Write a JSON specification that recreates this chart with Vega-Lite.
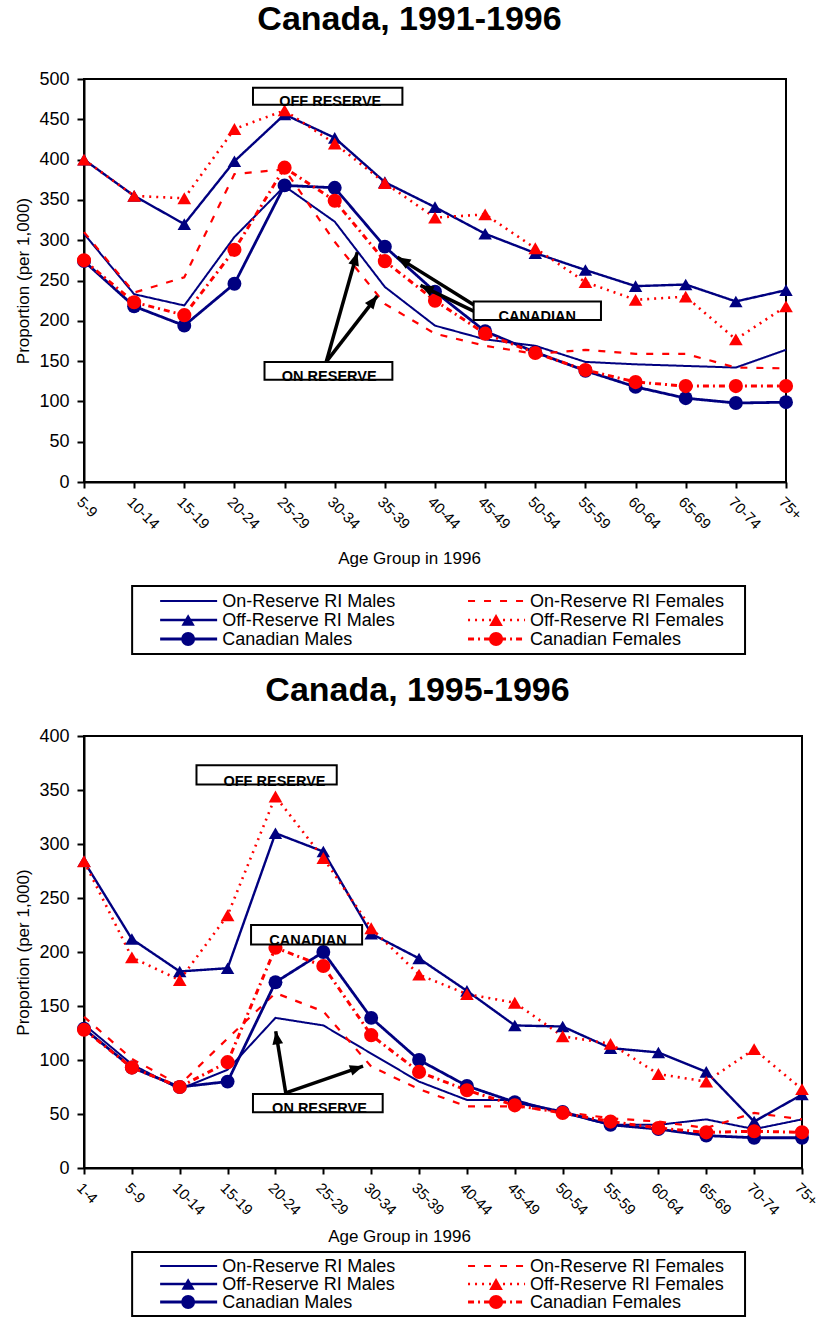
{
  "$schema": "https://vega.github.io/schema/vega-lite/v6.json",
  "padding": {"left": 13, "top": 2, "right": 5, "bottom": 0},
  "spacing": 17,
  "config": {
    "font": "Liberation Sans",
    "view": {"stroke": "black", "strokeWidth": 2},
    "axis": {
      "domainColor": "black", "domainWidth": 2, "tickColor": "black", "tickWidth": 2,
      "labelColor": "black", "titleColor": "black", "grid": false,
      "labelFont": "Liberation Sans", "titleFont": "Liberation Sans", "titleFontWeight": "normal"
    },
    "title": {"font": "Liberation Sans", "fontWeight": "bold", "color": "black", "anchor": "middle", "frame": "bounds"},
    "text": {"font": "Liberation Sans", "color": "black"}
  },
  "datasets": {
    "rates9196": [
      {"age": "5-9", "On-Reserve RI Males": 308, "On-Reserve RI Females": 310, "Off-Reserve RI Males": 400, "Off-Reserve RI Females": 400, "Canadian Males": 274, "Canadian Females": 275},
      {"age": "10-14", "On-Reserve RI Males": 233, "On-Reserve RI Females": 235, "Off-Reserve RI Males": 355, "Off-Reserve RI Females": 355, "Canadian Males": 218, "Canadian Females": 223},
      {"age": "15-19", "On-Reserve RI Males": 219, "On-Reserve RI Females": 254, "Off-Reserve RI Males": 320, "Off-Reserve RI Females": 352, "Canadian Males": 194, "Canadian Females": 207},
      {"age": "20-24", "On-Reserve RI Males": 304, "On-Reserve RI Females": 382, "Off-Reserve RI Males": 398, "Off-Reserve RI Females": 438, "Canadian Males": 246, "Canadian Females": 288},
      {"age": "25-29", "On-Reserve RI Males": 367, "On-Reserve RI Females": 388, "Off-Reserve RI Males": 456, "Off-Reserve RI Females": 461, "Canadian Males": 368, "Canadian Females": 390},
      {"age": "30-34", "On-Reserve RI Males": 323, "On-Reserve RI Females": 298, "Off-Reserve RI Males": 427, "Off-Reserve RI Females": 420, "Canadian Males": 365, "Canadian Females": 349},
      {"age": "35-39", "On-Reserve RI Males": 242, "On-Reserve RI Females": 221, "Off-Reserve RI Males": 372, "Off-Reserve RI Females": 371, "Canadian Males": 292, "Canadian Females": 274},
      {"age": "40-44", "On-Reserve RI Males": 194, "On-Reserve RI Females": 184, "Off-Reserve RI Males": 341, "Off-Reserve RI Females": 328, "Canadian Males": 236, "Canadian Females": 225},
      {"age": "45-49", "On-Reserve RI Males": 177, "On-Reserve RI Females": 169, "Off-Reserve RI Males": 308, "Off-Reserve RI Females": 332, "Canadian Males": 187, "Canadian Females": 184},
      {"age": "50-54", "On-Reserve RI Males": 169, "On-Reserve RI Females": 159, "Off-Reserve RI Males": 284, "Off-Reserve RI Females": 290, "Canadian Males": 161, "Canadian Females": 160},
      {"age": "55-59", "On-Reserve RI Males": 149, "On-Reserve RI Females": 164, "Off-Reserve RI Males": 263, "Off-Reserve RI Females": 248, "Canadian Males": 138, "Canadian Females": 139},
      {"age": "60-64", "On-Reserve RI Males": 146, "On-Reserve RI Females": 159, "Off-Reserve RI Males": 243, "Off-Reserve RI Females": 226, "Canadian Males": 118, "Canadian Females": 124},
      {"age": "65-69", "On-Reserve RI Males": 144, "On-Reserve RI Females": 159, "Off-Reserve RI Males": 245, "Off-Reserve RI Females": 230, "Canadian Males": 104, "Canadian Females": 119},
      {"age": "70-74", "On-Reserve RI Males": 142, "On-Reserve RI Females": 142, "Off-Reserve RI Males": 224, "Off-Reserve RI Females": 177, "Canadian Males": 98, "Canadian Females": 119},
      {"age": "75+", "On-Reserve RI Males": 164, "On-Reserve RI Females": 141, "Off-Reserve RI Males": 238, "Off-Reserve RI Females": 218, "Canadian Males": 99, "Canadian Females": 119}
    ],
    "rates9596": [
      {"age": "1-4", "On-Reserve RI Males": 133, "On-Reserve RI Females": 140, "Off-Reserve RI Males": 284, "Off-Reserve RI Females": 284, "Canadian Males": 129, "Canadian Females": 128},
      {"age": "5-9", "On-Reserve RI Males": 96, "On-Reserve RI Females": 101, "Off-Reserve RI Males": 212, "Off-Reserve RI Females": 195, "Canadian Males": 93, "Canadian Females": 93},
      {"age": "10-14", "On-Reserve RI Males": 73, "On-Reserve RI Females": 77, "Off-Reserve RI Males": 182, "Off-Reserve RI Females": 174, "Canadian Males": 75, "Canadian Females": 75},
      {"age": "15-19", "On-Reserve RI Males": 91, "On-Reserve RI Females": 120, "Off-Reserve RI Males": 185, "Off-Reserve RI Females": 234, "Canadian Males": 80, "Canadian Females": 98},
      {"age": "20-24", "On-Reserve RI Males": 139, "On-Reserve RI Females": 162, "Off-Reserve RI Males": 310, "Off-Reserve RI Females": 344, "Canadian Males": 172, "Canadian Females": 204},
      {"age": "25-29", "On-Reserve RI Males": 132, "On-Reserve RI Females": 145, "Off-Reserve RI Males": 293, "Off-Reserve RI Females": 287, "Canadian Males": 200, "Canadian Females": 187},
      {"age": "30-34", "On-Reserve RI Males": 106, "On-Reserve RI Females": 94, "Off-Reserve RI Males": 217, "Off-Reserve RI Females": 222, "Canadian Males": 139, "Canadian Females": 123},
      {"age": "35-39", "On-Reserve RI Males": 80, "On-Reserve RI Females": 73, "Off-Reserve RI Males": 194, "Off-Reserve RI Females": 179, "Canadian Males": 100, "Canadian Females": 89},
      {"age": "40-44", "On-Reserve RI Males": 63, "On-Reserve RI Females": 57, "Off-Reserve RI Males": 164, "Off-Reserve RI Females": 161, "Canadian Males": 76, "Canadian Females": 72},
      {"age": "45-49", "On-Reserve RI Males": 63, "On-Reserve RI Females": 57, "Off-Reserve RI Males": 132, "Off-Reserve RI Females": 153, "Canadian Males": 61, "Canadian Females": 58},
      {"age": "50-54", "On-Reserve RI Males": 51, "On-Reserve RI Females": 52, "Off-Reserve RI Males": 131, "Off-Reserve RI Females": 122, "Canadian Males": 52, "Canadian Females": 51},
      {"age": "55-59", "On-Reserve RI Males": 40, "On-Reserve RI Females": 46, "Off-Reserve RI Males": 111, "Off-Reserve RI Females": 115, "Canadian Males": 40, "Canadian Females": 43},
      {"age": "60-64", "On-Reserve RI Males": 40, "On-Reserve RI Females": 43, "Off-Reserve RI Males": 107, "Off-Reserve RI Females": 87, "Canadian Males": 36, "Canadian Females": 37},
      {"age": "65-69", "On-Reserve RI Males": 45, "On-Reserve RI Females": 37, "Off-Reserve RI Males": 89, "Off-Reserve RI Females": 80, "Canadian Males": 30, "Canadian Females": 33},
      {"age": "70-74", "On-Reserve RI Males": 36, "On-Reserve RI Females": 51, "Off-Reserve RI Males": 43, "Off-Reserve RI Females": 110, "Canadian Males": 28, "Canadian Females": 34},
      {"age": "75+", "On-Reserve RI Males": 45, "On-Reserve RI Females": 45, "Off-Reserve RI Males": 68, "Off-Reserve RI Females": 73, "Canadian Males": 28, "Canadian Females": 33}
    ],
    "legendItems": [
      {"series": "On-Reserve RI Males", "group": "On-Reserve RI", "sex": "Males"},
      {"series": "On-Reserve RI Females", "group": "On-Reserve RI", "sex": "Females"},
      {"series": "Off-Reserve RI Males", "group": "Off-Reserve RI", "sex": "Males"},
      {"series": "Off-Reserve RI Females", "group": "Off-Reserve RI", "sex": "Females"},
      {"series": "Canadian Males", "group": "Canadian", "sex": "Males"},
      {"series": "Canadian Females", "group": "Canadian", "sex": "Females"}
    ],
    "notes9196": [
      {"label": "OFF RESERVE", "x0": 3.37, "x1": 6.35, "y0": 468, "y1": 489, "xc": 4.91},
      {"label": "CANADIAN", "x0": 7.77, "x1": 10.31, "y0": 201, "y1": 224, "xc": 9.04},
      {"label": "ON RESERVE", "x0": 3.6, "x1": 6.15, "y0": 127, "y1": 149, "xc": 4.89}
    ],
    "arrows9196": [
      {"x0": 4.83, "v0": 149, "x1": 5.45, "v1": 285, "heading": 16},
      {"x0": 4.83, "v0": 149, "x1": 5.85, "v1": 231, "heading": 38},
      {"x0": 7.77, "v0": 220, "x1": 6.25, "v1": 279, "heading": -58},
      {"x0": 7.77, "v0": 212, "x1": 6.71, "v1": 244, "heading": -64}
    ],
    "notes9596": [
      {"label": "OFF RESERVE", "x0": 2.35, "x1": 5.28, "y0": 355, "y1": 373, "xc": 3.98},
      {"label": "CANADIAN", "x0": 3.49, "x1": 5.81, "y0": 207, "y1": 225, "xc": 4.68},
      {"label": "ON RESERVE", "x0": 3.53, "x1": 6.24, "y0": 51.6, "y1": 68.6, "xc": 4.92}
    ],
    "arrows9596": [
      {"x0": 4.215, "v0": 69.5, "x1": 4.005, "v1": 126.7, "heading": -9},
      {"x0": 4.215, "v0": 69.5, "x1": 5.83, "v1": 94.3, "heading": 71}
    ]
  },
  "vconcat": [
    {
      "spacing": 16,
      "vconcat": [
        {
          "title": {"text": "Canada, 1991-1996", "fontSize": 34, "offset": 33},
          "width": 702,
          "height": 403,
          "resolve": {"scale": {"x": "independent"}},
          "layer": [
            {
              "data": {"name": "rates9196"},
              "transform": [{"fold": ["On-Reserve RI Males", "On-Reserve RI Females", "Off-Reserve RI Males", "Off-Reserve RI Females", "Canadian Males", "Canadian Females"], "as": ["series", "value"]}],
              "encoding": {
                "x": {
                  "field": "age", "type": "nominal",
                  "scale": {"type": "point", "padding": 0, "domain": ["5-9", "10-14", "15-19", "20-24", "25-29", "30-34", "35-39", "40-44", "45-49", "50-54", "55-59", "60-64", "65-69", "70-74", "75+"]},
                  "axis": {"title": "Age Group in 1996", "titleFontSize": 17, "titlePadding": 19, "titleX": 325, "labelAngle": 45, "labelAlign": "left", "labelBaseline": "top", "labelFontSize": 15, "labelPadding": 6, "tickSize": 6}
                },
                "y": {
                  "field": "value", "type": "quantitative",
                  "scale": {"domain": [0, 500], "nice": false},
                  "axis": {"title": "Proportion (per 1,000)", "titleFontSize": 17, "titlePadding": 6, "labelFontSize": 18, "labelPadding": 8, "tickSize": 7, "values": [0, 50, 100, 150, 200, 250, 300, 350, 400, 450, 500]}
                },
                "color": {"field": "series", "type": "nominal", "legend": null,
                  "scale": {"domain": ["On-Reserve RI Males", "On-Reserve RI Females", "Off-Reserve RI Males", "Off-Reserve RI Females", "Canadian Males", "Canadian Females"], "range": ["#000080", "#ff0000", "#000080", "#ff0000", "#000080", "#ff0000"]}}
              },
              "layer": [
                {
                  "mark": {"type": "line"},
                  "encoding": {
                    "order": {"value": null},
                    "strokeDash": {"field": "series", "type": "nominal", "legend": null,
                      "scale": {"domain": ["On-Reserve RI Males", "On-Reserve RI Females", "Off-Reserve RI Males", "Off-Reserve RI Females", "Canadian Males", "Canadian Females"], "range": [[1, 0], [7, 9], [1, 0], [2, 5], [1, 0], [6, 4, 2, 4]]}},
                    "strokeWidth": {"field": "series", "type": "ordinal", "legend": null,
                      "scale": {"domain": ["On-Reserve RI Males", "On-Reserve RI Females", "Off-Reserve RI Males", "Off-Reserve RI Females", "Canadian Males", "Canadian Females"], "range": [2, 3, 2, 2, 2, 2]}}
                  }
                },
                {
                  "transform": [{"filter": {"field": "series", "oneOf": ["Off-Reserve RI Males", "Off-Reserve RI Females", "Canadian Males", "Canadian Females"]}}],
                  "mark": {"type": "point", "filled": true, "opacity": 1},
                  "encoding": {
                    "shape": {"field": "series", "type": "nominal", "legend": null,
                      "scale": {"domain": ["Off-Reserve RI Males", "Off-Reserve RI Females", "Canadian Males", "Canadian Females"], "range": ["triangle-up", "triangle-up", "circle", "circle"]}},
                    "size": {"field": "series", "type": "ordinal", "legend": null,
                      "scale": {"domain": ["Off-Reserve RI Males", "Off-Reserve RI Females", "Canadian Males", "Canadian Females"], "range": [180, 200, 90, 130]}}
                  }
                }
              ]
            },
            {
              "data": {"name": "notes9196"},
              "layer": [
                {
                  "mark": {"type": "rect", "fill": "white", "stroke": "black", "strokeWidth": 2},
                  "encoding": {
                    "x": {"field": "x0", "type": "quantitative", "scale": {"domain": [0, 14], "nice": false, "zero": false}, "axis": null},
                    "x2": {"field": "x1"},
                    "y": {"field": "y0", "type": "quantitative"},
                    "y2": {"field": "y1"}
                  }
                },
                {
                  "mark": {"type": "text", "fontWeight": "bold", "fontSize": 14.5, "baseline": "alphabetic", "align": "center", "dy": 1},
                  "encoding": {
                    "x": {"field": "xc", "type": "quantitative", "axis": null},
                    "y": {"field": "y0", "type": "quantitative"},
                    "text": {"field": "label"}
                  }
                }
              ]
            },
            {
              "data": {"name": "arrows9196"},
              "layer": [
                {
                  "mark": {"type": "rule", "color": "black", "strokeWidth": 3.5},
                  "encoding": {
                    "x": {"field": "x0", "type": "quantitative", "scale": {"domain": [0, 14], "nice": false, "zero": false}, "axis": null},
                    "x2": {"field": "x1"},
                    "y": {"field": "v0", "type": "quantitative"},
                    "y2": {"field": "v1"}
                  }
                },
                {
                  "mark": {"type": "point", "filled": true, "color": "black", "opacity": 1, "shape": "M0,0L-0.9,2.2L0.9,2.2Z", "size": 144},
                  "encoding": {
                    "x": {"field": "x1", "type": "quantitative", "axis": null},
                    "y": {"field": "v1", "type": "quantitative"},
                    "angle": {"field": "heading", "type": "quantitative", "scale": null}
                  }
                }
              ]
            }
          ]
        },
        {
          "width": 662,
          "height": 68,
          "view": {"stroke": null},
          "data": {"name": "legendItems"},
          "encoding": {
            "x": {"field": "sex", "type": "nominal", "axis": null, "scale": {"type": "point", "domain": ["Males", "Females"], "padding": 0.575, "align": 0.215}},
            "y": {"field": "group", "type": "nominal", "axis": null, "scale": {"type": "point", "domain": ["On-Reserve RI", "Off-Reserve RI", "Canadian"], "padding": 0.789, "align": 0.5}}
          },
          "layer": [
            {
              "data": {"values": [{"first": "Males", "last": "Females", "top": "On-Reserve RI", "bottom": "Canadian"}]},
              "mark": {"type": "rect", "fill": null, "stroke": "black", "strokeWidth": 2, "xOffset": -28, "x2Offset": 277, "yOffset": -15, "y2Offset": 15},
              "encoding": {
                "x": {"field": "first", "type": "nominal"},
                "x2": {"field": "last"},
                "y": {"field": "top", "type": "nominal"},
                "y2": {"field": "bottom"}
              }
            },
            {
              "mark": {"type": "rule", "x2Offset": 57},
              "encoding": {
                "x2": {"field": "sex"},
                "color": {"field": "series", "type": "nominal", "legend": null,
                  "scale": {"domain": ["On-Reserve RI Males", "On-Reserve RI Females", "Off-Reserve RI Males", "Off-Reserve RI Females", "Canadian Males", "Canadian Females"], "range": ["#000080", "#ff0000", "#000080", "#ff0000", "#000080", "#ff0000"]}},
                "strokeDash": {"field": "series", "type": "nominal", "legend": null,
                  "scale": {"domain": ["On-Reserve RI Males", "On-Reserve RI Females", "Off-Reserve RI Males", "Off-Reserve RI Females", "Canadian Males", "Canadian Females"], "range": [[1, 0], [7, 9], [1, 0], [2, 5], [1, 0], [6, 4, 2, 4]]}},
                "strokeWidth": {"field": "series", "type": "ordinal", "legend": null,
                  "scale": {"domain": ["On-Reserve RI Males", "On-Reserve RI Females", "Off-Reserve RI Males", "Off-Reserve RI Females", "Canadian Males", "Canadian Females"], "range": [2, 3, 2, 2, 2, 2]}}
              }
            },
            {
              "transform": [{"filter": {"field": "series", "oneOf": ["Off-Reserve RI Males", "Off-Reserve RI Females", "Canadian Males", "Canadian Females"]}}],
              "mark": {"type": "point", "filled": true, "opacity": 1, "xOffset": 28},
              "encoding": {
                "color": {"field": "series", "type": "nominal", "legend": null},
                "shape": {"field": "series", "type": "nominal", "legend": null,
                  "scale": {"domain": ["Off-Reserve RI Males", "Off-Reserve RI Females", "Canadian Males", "Canadian Females"], "range": ["triangle-up", "triangle-up", "circle", "circle"]}},
                "size": {"field": "series", "type": "ordinal", "legend": null,
                  "scale": {"domain": ["Off-Reserve RI Males", "Off-Reserve RI Females", "Canadian Males", "Canadian Females"], "range": [180, 200, 90, 130]}}
              }
            },
            {
              "mark": {"type": "text", "align": "left", "baseline": "middle", "fontSize": 18, "dx": 62, "dy": 1},
              "encoding": {"text": {"field": "series"}}
            }
          ]
        }
      ]
    },
    {
      "spacing": 5,
      "vconcat": [
        {
          "title": {"text": "Canada, 1995-1996", "fontSize": 34, "offset": 19},
          "width": 718,
          "height": 432,
          "resolve": {"scale": {"x": "independent"}},
          "layer": [
            {
              "data": {"name": "rates9596"},
              "transform": [{"fold": ["On-Reserve RI Males", "On-Reserve RI Females", "Off-Reserve RI Males", "Off-Reserve RI Females", "Canadian Males", "Canadian Females"], "as": ["series", "value"]}],
              "encoding": {
                "x": {
                  "field": "age", "type": "nominal",
                  "scale": {"type": "point", "padding": 0, "domain": ["1-4", "5-9", "10-14", "15-19", "20-24", "25-29", "30-34", "35-39", "40-44", "45-49", "50-54", "55-59", "60-64", "65-69", "70-74", "75+"]},
                  "axis": {"title": "Age Group in 1996", "titleFontSize": 17, "titlePadding": 11, "titleX": 315, "labelAngle": 45, "labelAlign": "left", "labelBaseline": "top", "labelFontSize": 15, "labelPadding": 6, "tickSize": 6}
                },
                "y": {
                  "field": "value", "type": "quantitative",
                  "scale": {"domain": [0, 400], "nice": false},
                  "axis": {"title": "Proportion (per 1,000)", "titleFontSize": 17, "titlePadding": 6, "labelFontSize": 18, "labelPadding": 8, "tickSize": 7, "values": [0, 50, 100, 150, 200, 250, 300, 350, 400]}
                },
                "color": {"field": "series", "type": "nominal", "legend": null,
                  "scale": {"domain": ["On-Reserve RI Males", "On-Reserve RI Females", "Off-Reserve RI Males", "Off-Reserve RI Females", "Canadian Males", "Canadian Females"], "range": ["#000080", "#ff0000", "#000080", "#ff0000", "#000080", "#ff0000"]}}
              },
              "layer": [
                {
                  "mark": {"type": "line"},
                  "encoding": {
                    "order": {"value": null},
                    "strokeDash": {"field": "series", "type": "nominal", "legend": null,
                      "scale": {"domain": ["On-Reserve RI Males", "On-Reserve RI Females", "Off-Reserve RI Males", "Off-Reserve RI Females", "Canadian Males", "Canadian Females"], "range": [[1, 0], [7, 9], [1, 0], [2, 5], [1, 0], [6, 4, 2, 4]]}},
                    "strokeWidth": {"field": "series", "type": "ordinal", "legend": null,
                      "scale": {"domain": ["On-Reserve RI Males", "On-Reserve RI Females", "Off-Reserve RI Males", "Off-Reserve RI Females", "Canadian Males", "Canadian Females"], "range": [2, 3, 2, 2, 2, 2]}}
                  }
                },
                {
                  "transform": [{"filter": {"field": "series", "oneOf": ["Off-Reserve RI Males", "Off-Reserve RI Females", "Canadian Males", "Canadian Females"]}}],
                  "mark": {"type": "point", "filled": true, "opacity": 1},
                  "encoding": {
                    "shape": {"field": "series", "type": "nominal", "legend": null,
                      "scale": {"domain": ["Off-Reserve RI Males", "Off-Reserve RI Females", "Canadian Males", "Canadian Females"], "range": ["triangle-up", "triangle-up", "circle", "circle"]}},
                    "size": {"field": "series", "type": "ordinal", "legend": null,
                      "scale": {"domain": ["Off-Reserve RI Males", "Off-Reserve RI Females", "Canadian Males", "Canadian Females"], "range": [180, 200, 90, 130]}}
                  }
                }
              ]
            },
            {
              "data": {"name": "notes9596"},
              "layer": [
                {
                  "mark": {"type": "rect", "fill": "white", "stroke": "black", "strokeWidth": 2},
                  "encoding": {
                    "x": {"field": "x0", "type": "quantitative", "scale": {"domain": [0, 15], "nice": false, "zero": false}, "axis": null},
                    "x2": {"field": "x1"},
                    "y": {"field": "y0", "type": "quantitative"},
                    "y2": {"field": "y1"}
                  }
                },
                {
                  "mark": {"type": "text", "fontWeight": "bold", "fontSize": 14.5, "baseline": "alphabetic", "align": "center", "dy": 1},
                  "encoding": {
                    "x": {"field": "xc", "type": "quantitative", "axis": null},
                    "y": {"field": "y0", "type": "quantitative"},
                    "text": {"field": "label"}
                  }
                }
              ]
            },
            {
              "data": {"name": "arrows9596"},
              "layer": [
                {
                  "mark": {"type": "rule", "color": "black", "strokeWidth": 3.5},
                  "encoding": {
                    "x": {"field": "x0", "type": "quantitative", "scale": {"domain": [0, 15], "nice": false, "zero": false}, "axis": null},
                    "x2": {"field": "x1"},
                    "y": {"field": "v0", "type": "quantitative"},
                    "y2": {"field": "v1"}
                  }
                },
                {
                  "mark": {"type": "point", "filled": true, "color": "black", "opacity": 1, "shape": "M0,0L-0.9,2.2L0.9,2.2Z", "size": 144},
                  "encoding": {
                    "x": {"field": "x1", "type": "quantitative", "axis": null},
                    "y": {"field": "v1", "type": "quantitative"},
                    "angle": {"field": "heading", "type": "quantitative", "scale": null}
                  }
                }
              ]
            }
          ]
        },
        {
          "width": 662,
          "height": 64,
          "view": {"stroke": null},
          "data": {"name": "legendItems"},
          "encoding": {
            "x": {"field": "sex", "type": "nominal", "axis": null, "scale": {"type": "point", "domain": ["Males", "Females"], "padding": 0.575, "align": 0.215}},
            "y": {"field": "group", "type": "nominal", "axis": null, "scale": {"type": "point", "domain": ["On-Reserve RI", "Off-Reserve RI", "Canadian"], "padding": 0.778, "align": 0.5}}
          },
          "layer": [
            {
              "data": {"values": [{"first": "Males", "last": "Females", "top": "On-Reserve RI", "bottom": "Canadian"}]},
              "mark": {"type": "rect", "fill": null, "stroke": "black", "strokeWidth": 2, "xOffset": -28, "x2Offset": 277, "yOffset": -14, "y2Offset": 14},
              "encoding": {
                "x": {"field": "first", "type": "nominal"},
                "x2": {"field": "last"},
                "y": {"field": "top", "type": "nominal"},
                "y2": {"field": "bottom"}
              }
            },
            {
              "mark": {"type": "rule", "x2Offset": 57},
              "encoding": {
                "x2": {"field": "sex"},
                "color": {"field": "series", "type": "nominal", "legend": null,
                  "scale": {"domain": ["On-Reserve RI Males", "On-Reserve RI Females", "Off-Reserve RI Males", "Off-Reserve RI Females", "Canadian Males", "Canadian Females"], "range": ["#000080", "#ff0000", "#000080", "#ff0000", "#000080", "#ff0000"]}},
                "strokeDash": {"field": "series", "type": "nominal", "legend": null,
                  "scale": {"domain": ["On-Reserve RI Males", "On-Reserve RI Females", "Off-Reserve RI Males", "Off-Reserve RI Females", "Canadian Males", "Canadian Females"], "range": [[1, 0], [7, 9], [1, 0], [2, 5], [1, 0], [6, 4, 2, 4]]}},
                "strokeWidth": {"field": "series", "type": "ordinal", "legend": null,
                  "scale": {"domain": ["On-Reserve RI Males", "On-Reserve RI Females", "Off-Reserve RI Males", "Off-Reserve RI Females", "Canadian Males", "Canadian Females"], "range": [2, 3, 2, 2, 2, 2]}}
              }
            },
            {
              "transform": [{"filter": {"field": "series", "oneOf": ["Off-Reserve RI Males", "Off-Reserve RI Females", "Canadian Males", "Canadian Females"]}}],
              "mark": {"type": "point", "filled": true, "opacity": 1, "xOffset": 28},
              "encoding": {
                "color": {"field": "series", "type": "nominal", "legend": null},
                "shape": {"field": "series", "type": "nominal", "legend": null,
                  "scale": {"domain": ["Off-Reserve RI Males", "Off-Reserve RI Females", "Canadian Males", "Canadian Females"], "range": ["triangle-up", "triangle-up", "circle", "circle"]}},
                "size": {"field": "series", "type": "ordinal", "legend": null,
                  "scale": {"domain": ["Off-Reserve RI Males", "Off-Reserve RI Females", "Canadian Males", "Canadian Females"], "range": [180, 200, 90, 130]}}
              }
            },
            {
              "mark": {"type": "text", "align": "left", "baseline": "middle", "fontSize": 18, "dx": 62, "dy": 1},
              "encoding": {"text": {"field": "series"}}
            }
          ]
        }
      ]
    }
  ]
}
